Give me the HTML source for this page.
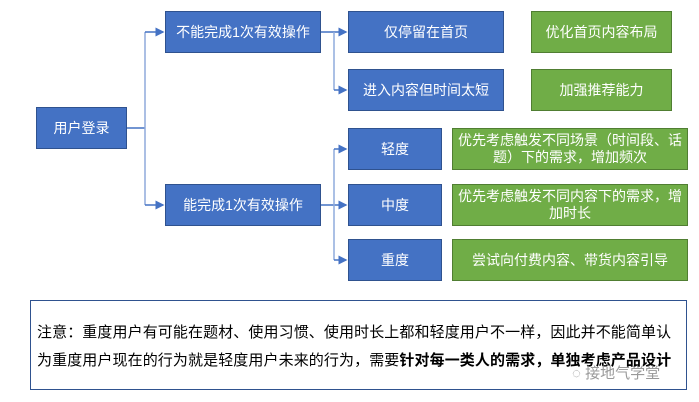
<!DOCTYPE html>
<html><head><meta charset="utf-8"><style>
body{margin:0;width:699px;height:402px;background:#fff;position:relative;overflow:hidden;font-family:"Liberation Sans","Noto Sans CJK SC",sans-serif}
.b{position:absolute;box-sizing:border-box;border:1px solid #2f528f;background:#4472c4;color:#fff;font-size:14px;display:flex;align-items:center;justify-content:center;text-align:center;line-height:17px}
.g{background:#70ad47;border-color:#507e32;padding:0 4px}
.note{position:absolute;left:30px;top:300px;width:657px;height:90px;box-sizing:border-box;border:1px solid #2f528f;font-size:15px;color:#000;padding:18px 0 0 6px;line-height:28px;white-space:nowrap;letter-spacing:0.1px}
</style></head><body>
<svg style="position:absolute;left:0;top:0" width="699" height="402">
<defs><marker id="a" markerWidth="6" markerHeight="6" refX="5" refY="3" orient="auto"><path d="M0,0 L6,3 L0,6z" fill="#4472c4"/></marker></defs>
<g stroke="#4472c4" stroke-width="1.5" fill="none">
<path d="M127 128 H145"/>
<path d="M145 32 V205" stroke="#8faadc"/>
<path d="M145 32 H163" marker-end="url(#a)"/>
<path d="M145 205 H163" marker-end="url(#a)"/>
<path d="M321 32 H346" marker-end="url(#a)"/>
<path d="M334 32 V90" stroke="#8faadc"/>
<path d="M334 90 H346" marker-end="url(#a)"/>
<path d="M321 205 H346" marker-end="url(#a)"/>
<path d="M334 149 V260" stroke="#8faadc"/>
<path d="M334 149 H346" marker-end="url(#a)"/>
<path d="M334 260 H346" marker-end="url(#a)"/>
</g></svg>
<div class="b" style="left:36px;top:107px;width:91px;height:42px">用户登录</div>
<div class="b" style="left:165px;top:11px;width:156px;height:42px">不能完成1次有效操作</div>
<div class="b" style="left:165px;top:184px;width:156px;height:42px">能完成1次有效操作</div>
<div class="b" style="left:348px;top:11px;width:156px;height:42px">仅停留在首页</div>
<div class="b" style="left:348px;top:69px;width:156px;height:42px">进入内容但时间太短</div>
<div class="b g" style="left:531px;top:11px;width:141px;height:42px">优化首页内容布局</div>
<div class="b g" style="left:531px;top:69px;width:141px;height:42px">加强推荐能力</div>
<div class="b" style="left:348px;top:128px;width:94px;height:42px">轻度</div>
<div class="b" style="left:348px;top:184px;width:94px;height:42px">中度</div>
<div class="b" style="left:348px;top:239px;width:94px;height:42px">重度</div>
<div class="b g" style="left:452px;top:128px;width:236px;height:42px">优先考虑触发不同场景（时间段、话题）下的需求，增加频次</div>
<div class="b g" style="left:452px;top:184px;width:236px;height:42px">优先考虑触发不同内容下的需求，增加时长</div>
<div class="b g" style="left:452px;top:239px;width:236px;height:42px">尝试向付费内容、带货内容引导</div>
<div class="note">注意：重度用户有可能在题材、使用习惯、使用时长上都和轻度用户不一样，因此并不能简单认<br>为重度用户现在的行为就是轻度用户未来的行为，需要<b>针对每一类人的需求，单独考虑产品设计</b></div>
<div style="position:absolute;left:572px;top:362px;font-size:15px;color:#999">◌ 接地气学堂</div>
</body></html>
